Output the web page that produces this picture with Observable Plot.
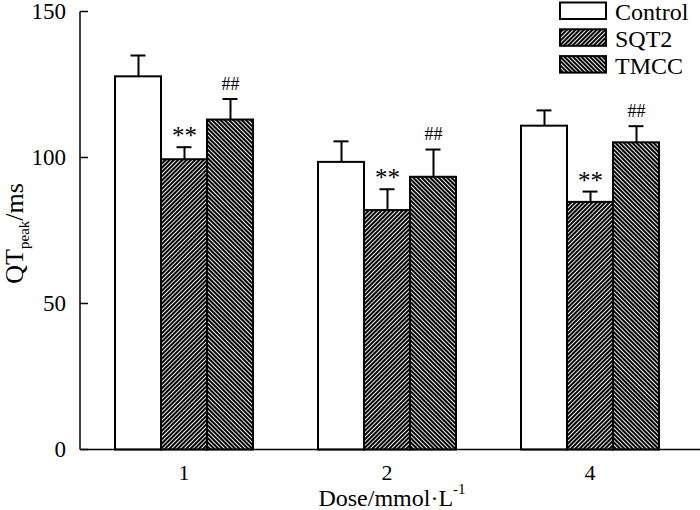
<!DOCTYPE html>
<html>
<head>
<meta charset="utf-8">
<script src="https://cdn.jsdelivr.net/npm/d3@7"></script>
<script src="https://cdn.jsdelivr.net/npm/@observablehq/plot@0.6"></script>
<style>
  body { margin: 0; background: white; }
  #chart { width: 700px; height: 510px; }
  #chart svg text { font-family: "Liberation Serif", "Times New Roman", serif; }
</style>
</head>
<body>
<div id="chart"></div>
<script>
// ---- data ----
const doses = ["1", "2", "4"];
const groups = ["Control", "SQT2", "TMCC"];
const controlMean = [127.8, 98.5, 110.9];
const controlErr = [7.3, 7.2, 5.4];
const sqt2Mean = [99.4, 82.0, 84.8];
const sqt2Err = [4.3, 7.3, 3.7];
const tmccMean = [113.0, 93.4, 105.2];
const tmccErr = [7.2, 9.5, 5.7];
const sigMarks = ["", "**", "##"];
const yTicks = [0, 50, 100, 150];
const groupFills = ["white", "url(#hatchSQT2)", "url(#hatchTMCC)"];

const means = [controlMean, sqt2Mean, tmccMean];
const errs = [controlErr, sqt2Err, tmccErr];
const rows = [];
doses.forEach((dose, i) => {
  groups.forEach((g, j) => {
    rows.push({dose, group: g, mean: means[j][i], top: means[j][i] + errs[j][i],
      fill: groupFills[j], sig: sigMarks[j]});
  });
});

const font = "'Liberation Serif', 'Times New Roman', serif";

const chart = Plot.plot({
  width: 700,
  height: 510,
  marginLeft: 80,
  marginRight: 0,
  marginTop: 11.5,
  marginBottom: 60.5,
  style: {fontFamily: font, fontSize: "22px", background: "white", color: "black"},
  fx: {domain: doses, paddingInner: 0.317, paddingOuter: 0.182, align: 0.446, label: null},
  x: {domain: groups, padding: 0, axis: null},
  y: {domain: [0, 150], label: null, axis: null},
  color: {type: "identity"},
  marks: [
    Plot.axisFx({anchor: "bottom", tickSize: 0, tickPadding: 14, fontSize: 22, label: null}),
    Plot.ruleX(rows, {fx: "dose", x: "group", y1: "mean", y2: "top", stroke: "black", strokeWidth: 2}),
    Plot.tickY(rows, {fx: "dose", x: "group", y: "top", stroke: "black", strokeWidth: 2, insetLeft: 15.5, insetRight: 15.5}),
    Plot.barY(rows, {fx: "dose", x: "group", y: "mean", fill: "fill", stroke: "black", strokeWidth: 2}),
    Plot.text(rows.filter(d => d.sig === "**"), {fx: "dose", x: "group", y: "top", text: "sig", dy: -11, fontSize: 25, fill: "black"}),
    Plot.text(rows.filter(d => d.sig === "##"), {fx: "dose", x: "group", y: "top", text: "sig", dy: -15, fontSize: 18, fill: "black"})
  ]
});

document.getElementById("chart").appendChild(chart);

// ---- post-process: patterns, axis lines, ticks, labels, legend ----
const svg = d3.select(chart);
const defs = svg.insert("defs", ":first-child");
function hatch(id, angle) {
  const p = defs.append("pattern").attr("id", id).attr("patternUnits", "userSpaceOnUse")
    .attr("width", 3).attr("height", 3).attr("patternTransform", `rotate(${angle})`);
  p.append("rect").attr("width", 3).attr("height", 3).attr("fill", "black");
  p.append("rect").attr("x", 0).attr("width", 0.95).attr("height", 3).attr("fill", "white");
}
hatch("hatchSQT2", 45);
hatch("hatchTMCC", -45);

const y = chart.scale("y");
const x0 = 80, xEnd = 700;
const g = svg.append("g").attr("stroke", "black").attr("stroke-width", 1.5);
g.append("line").attr("x1", x0).attr("x2", xEnd).attr("y1", y.apply(0)).attr("y2", y.apply(0));
g.append("line").attr("x1", x0).attr("x2", x0).attr("y1", y.apply(150)).attr("y2", y.apply(0));
const yt = svg.append("g").attr("font-size", 23).attr("fill", "black").attr("text-anchor", "end");
yTicks.forEach(t => {
  g.append("line").attr("x1", x0).attr("x2", x0 + 8).attr("y1", y.apply(t)).attr("y2", y.apply(t));
  yt.append("text").attr("x", x0 - 14).attr("y", y.apply(t)).attr("dy", "0.34em").text(t);
});

// y label
const yl = svg.append("text").attr("transform", `translate(23,${y.apply(74)}) rotate(-90)`)
  .attr("text-anchor", "middle").attr("font-size", 26).attr("fill", "black");
yl.append("tspan").text("QT");
yl.append("tspan").attr("font-size", 15).attr("dy", 6).text("peak");
yl.append("tspan").attr("dy", -6).text("/ms");

// x label
const xl = svg.append("text").attr("x", 392).attr("y", 506)
  .attr("text-anchor", "middle").attr("font-size", 24).attr("fill", "black");
xl.append("tspan").text("Dose/mmol\u00b7L");
xl.append("tspan").attr("font-size", 15).attr("dy", -12).text("-1");

// legend
const lg = svg.append("g").attr("font-size", 24).attr("text-anchor", "start");
groups.forEach((name, i) => {
  const ty = 2.5 + i * 26.8;
  lg.append("rect").attr("x", 560).attr("y", ty).attr("width", 46).attr("height", 16.5)
    .attr("fill", groupFills[i]).attr("stroke", "black").attr("stroke-width", 2);
  lg.append("text").attr("x", 615).attr("y", ty + 17.5).attr("fill", "black").text(name);
});
</script>
</body>
</html>
